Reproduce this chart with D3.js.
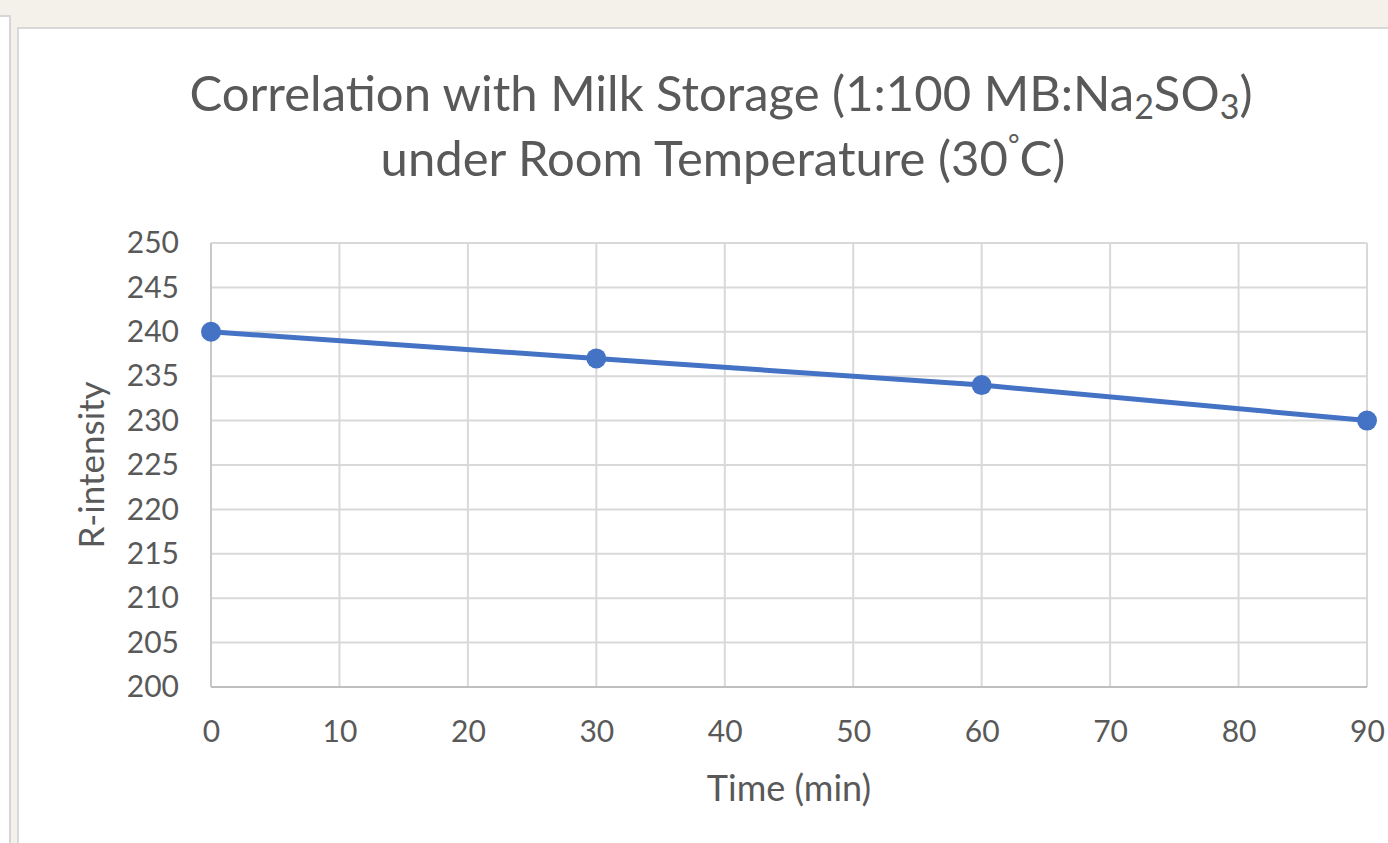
<!DOCTYPE html>
<html>
<head>
<meta charset="utf-8">
<script src="https://cdn.jsdelivr.net/npm/d3@7"></script>
<style>
  body { margin: 0; background: #f4f0ea; }
  svg { display: block; }
</style>
</head>
<body>
<div id="chart"></div>
<script>
const times = [0, 30, 60, 90];
const rIntensity = [240, 237, 234, 230];
const xTicks = [0, 10, 20, 30, 40, 50, 60, 70, 80, 90];
const yTicks = [200, 205, 210, 215, 220, 225, 230, 235, 240, 245, 250];

const w = 1388;
const h = 843;
const font = "Lato, 'Open Sans', sans-serif";
const grey = '#595959';

const svg = d3.select('#chart')
    .append('svg')
    .attr('width', w)
    .attr('height', h)
    .style('font-family', font);

// window frame around the chart
svg.append('rect').attr('width', w).attr('height', h).attr('fill', '#f4f0ea');
svg.append('rect')
    .attr('x', -4).attr('y', 16).attr('width', 14).attr('height', h)
    .attr('fill', '#fff').attr('stroke', '#d6d6d6').attr('stroke-width', 2);
svg.append('rect')
    .attr('x', 18).attr('y', 28).attr('width', w).attr('height', h)
    .attr('fill', '#fff').attr('stroke', '#d9d9d9').attr('stroke-width', 2);

const plotL = 211, plotR = 1367, plotT = 243, plotB = 687;

const x = d3.scaleLinear().domain([0, 90]).range([plotL, plotR]);
const y = d3.scaleLinear().domain([200, 250]).range([plotB, plotT]);

// gridlines
svg.append('g').selectAll('line')
    .data(yTicks).enter().append('line')
    .attr('x1', plotL).attr('x2', plotR)
    .attr('y1', d => y(d)).attr('y2', d => y(d))
    .attr('stroke', '#d9d9d9').attr('stroke-width', 2);
svg.append('g').selectAll('line')
    .data(xTicks).enter().append('line')
    .attr('x1', d => x(d)).attr('x2', d => x(d))
    .attr('y1', plotT).attr('y2', plotB)
    .attr('stroke', '#d9d9d9').attr('stroke-width', 2);

// axis lines
svg.append('line').attr('x1', plotL).attr('x2', plotR).attr('y1', plotB).attr('y2', plotB)
    .attr('stroke', '#bfbfbf').attr('stroke-width', 2);
svg.append('line').attr('x1', plotL).attr('x2', plotL).attr('y1', plotT).attr('y2', plotB)
    .attr('stroke', '#c8c8c8').attr('stroke-width', 2);

const xAxis = d3.axisBottom(x).tickValues(xTicks).tickSize(0).tickPadding(34);
const yAxis = d3.axisLeft(y).tickValues(yTicks).tickSize(0).tickPadding(32);

const gx = svg.append('g').attr('transform', 'translate(0,' + plotB + ')').call(xAxis);
const gy = svg.append('g').attr('transform', 'translate(' + plotL + ',0)').call(yAxis);
[gx, gy].forEach(g => {
    g.select('.domain').remove();
    g.selectAll('text')
        .attr('fill', grey)
        .style('font-family', font)
        .style('font-size', '30px');
});

// series
const pts = times.map((t, i) => [t, rIntensity[i]]);
svg.append('path')
    .datum(pts)
    .attr('fill', 'none')
    .attr('stroke', '#4472c4')
    .attr('stroke-width', 5)
    .attr('d', d3.line().x(d => x(d[0])).y(d => y(d[1])));
svg.append('g').selectAll('circle')
    .data(pts).enter().append('circle')
    .attr('cx', d => x(d[0]))
    .attr('cy', d => y(d[1]))
    .attr('r', 10)
    .attr('fill', '#4472c4');

// titles
const t1 = svg.append('text')
    .attr('x', 721).attr('y', 111)
    .attr('text-anchor', 'middle')
    .attr('fill', grey)
    .style('font-size', '49px');
t1.append('tspan').text('Correlation with Milk Storage (1:100 MB:Na');
t1.append('tspan').attr('dy', 8).style('font-size', '34px').text('2');
t1.append('tspan').attr('dy', -8).text('SO');
t1.append('tspan').attr('dy', 8).style('font-size', '34px').text('3');
t1.append('tspan').attr('dy', -8).text(')');

const t2 = svg.append('text')
    .attr('x', 723).attr('y', 176)
    .attr('text-anchor', 'middle')
    .attr('fill', grey)
    .style('font-size', '49px');
t2.append('tspan').text('under Room Temperature  (30');
t2.append('tspan').attr('dy', -21).style('font-size', '28px').text('°');
t2.append('tspan').attr('dy', 21).text('C)');

svg.append('text')
    .attr('x', (plotL + plotR) / 2).attr('y', 801)
    .attr('text-anchor', 'middle')
    .attr('fill', grey)
    .style('font-size', '36px')
    .text('Time (min)');

svg.append('text')
    .attr('transform', 'translate(104,' + ((plotT + plotB) / 2) + ') rotate(-90)')
    .attr('text-anchor', 'middle')
    .attr('fill', grey)
    .style('font-size', '35px')
    .text('R-intensity');
</script>
</body>
</html>
